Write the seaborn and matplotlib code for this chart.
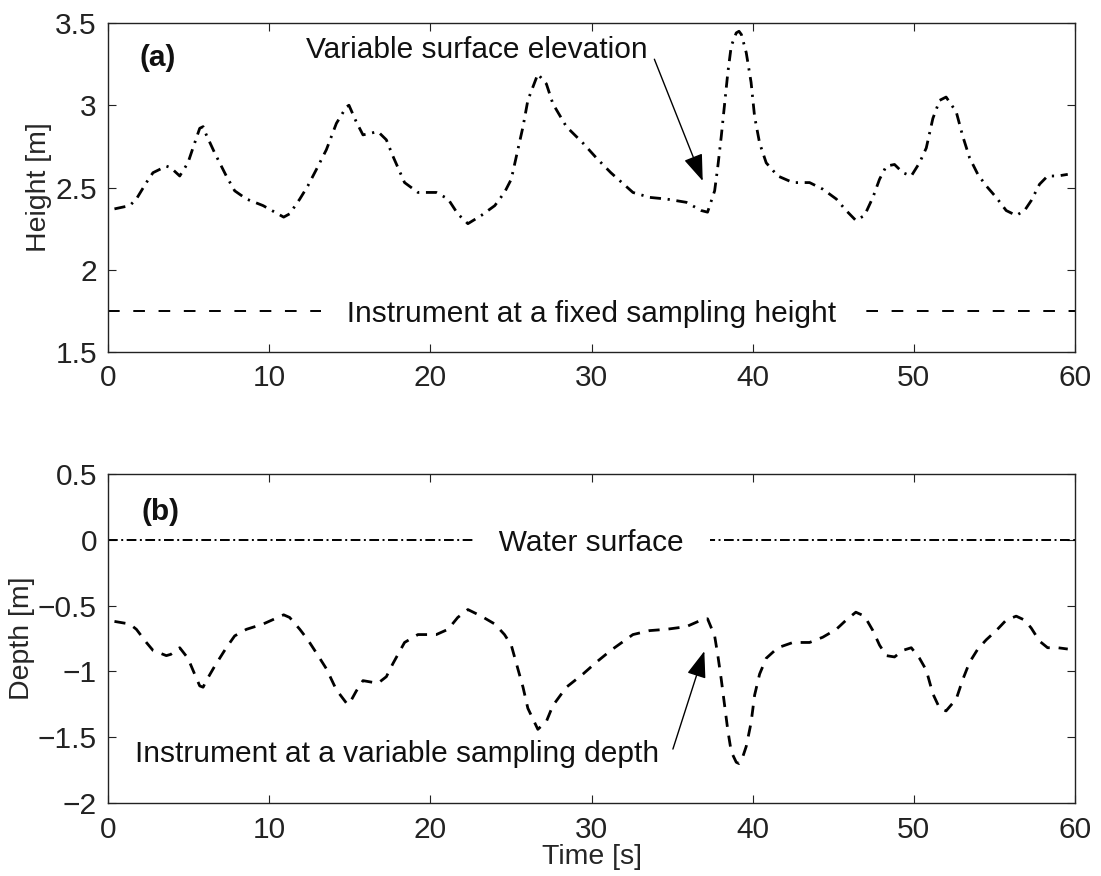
import matplotlib
matplotlib.use("Agg")
import matplotlib.pyplot as plt
import matplotlib.ticker as mticker
import pandas as pd
import seaborn as sns

# ---------------- data ----------------
time_s = [0.4, 1.35, 1.76, 2.38, 2.79, 3.62, 3.9, 4.45, 4.96, 5.27,
          5.69, 5.9, 6.1, 6.62, 7.34, 7.86, 8.59, 9.62, 10.9, 11.27,
          11.9, 12.4, 12.93, 13.55, 14.17, 14.79, 14.95, 15.4, 15.82, 16.75,
          17.27, 17.68, 18.4, 19.23, 20.37, 21.1, 21.7, 22.33, 23.16, 24.0,
          24.6, 25.02, 25.43, 25.75, 26.05, 26.67, 27.2, 27.6, 28.44, 29.47,
          30.3, 31.2, 32.57, 33.6, 34.64, 35.88, 36.81, 37.2, 37.64, 37.84,
          38.05, 38.26, 38.46, 38.67, 38.98, 39.15, 39.3, 39.6, 39.9, 40.12,
          40.43, 40.84, 41.56, 42.5, 43.53, 44.35, 45.19, 45.8, 46.4, 46.94,
          47.46, 47.87, 48.29, 48.8, 49.32, 49.84, 50.35, 50.77, 51.18, 51.6,
          52.0, 52.63, 53.04, 53.46, 53.97, 54.49, 55.11, 55.73, 56.35, 56.87,
          57.28, 57.8, 58.3, 58.93, 59.55]

surface_height = [2.37, 2.39, 2.43, 2.53, 2.59, 2.63, 2.62, 2.57, 2.65, 2.74,
                  2.86, 2.87, 2.82, 2.71, 2.57, 2.48, 2.43, 2.39, 2.32, 2.34,
                  2.43, 2.51, 2.61, 2.73, 2.89, 2.99, 3.00, 2.90, 2.82, 2.84,
                  2.79, 2.69, 2.53, 2.47, 2.47, 2.43, 2.34, 2.28, 2.33, 2.39,
                  2.47, 2.55, 2.73, 2.87, 3.03, 3.19, 3.13, 3.01, 2.87, 2.77,
                  2.68, 2.59, 2.47, 2.44, 2.43, 2.41, 2.36, 2.35, 2.48, 2.63,
                  2.81, 3.01, 3.20, 3.36, 3.44, 3.45, 3.43, 3.32, 3.14, 2.93,
                  2.77, 2.65, 2.57, 2.53, 2.53, 2.49, 2.43, 2.36, 2.30, 2.33,
                  2.44, 2.55, 2.63, 2.64, 2.59, 2.57, 2.65, 2.74, 2.92, 3.03,
                  3.05, 2.96, 2.81, 2.68, 2.58, 2.51, 2.44, 2.36, 2.33, 2.36,
                  2.42, 2.52, 2.57, 2.57, 2.58]

instrument_depth = [-0.62, -0.64, -0.68, -0.78, -0.84, -0.88, -0.87, -0.82, -0.90, -0.99,
                    -1.11, -1.12, -1.07, -0.96, -0.82, -0.73, -0.68, -0.64, -0.57, -0.59,
                    -0.68, -0.76, -0.86, -0.98, -1.14, -1.24, -1.25, -1.15, -1.07, -1.09,
                    -1.04, -0.94, -0.78, -0.72, -0.72, -0.68, -0.59, -0.53, -0.58, -0.64,
                    -0.72, -0.80, -0.98, -1.12, -1.28, -1.44, -1.38, -1.26, -1.12, -1.02,
                    -0.93, -0.84, -0.72, -0.69, -0.68, -0.66, -0.61, -0.60, -0.73, -0.88,
                    -1.06, -1.26, -1.45, -1.61, -1.69, -1.70, -1.68, -1.57, -1.39, -1.18,
                    -1.02, -0.90, -0.82, -0.78, -0.78, -0.74, -0.68, -0.61, -0.55, -0.58,
                    -0.69, -0.80, -0.88, -0.89, -0.84, -0.82, -0.90, -0.99, -1.17, -1.28,
                    -1.30, -1.21, -1.06, -0.93, -0.83, -0.76, -0.69, -0.61, -0.58, -0.61,
                    -0.67, -0.77, -0.82, -0.82, -0.83]

fixed_sampling_height = 1.75
water_surface_level = 0.0

x_ticks = [0, 10, 20, 30, 40, 50, 60]
height_ticks = [1.5, 2, 2.5, 3, 3.5]
depth_ticks = [-2, -1.5, -1, -0.5, 0, 0.5]

# ---------------- style ----------------
sns.set_theme(style="ticks")
plt.rcParams["font.family"] = ["Liberation Sans", "DejaVu Sans"]
plt.rcParams.update({
    "xtick.direction": "in", "ytick.direction": "in",
    "xtick.top": True, "ytick.right": True,
    "xtick.major.size": 6, "ytick.major.size": 6,
    "xtick.major.width": 0.8, "ytick.major.width": 0.8,
    "xtick.major.pad": 9, "ytick.major.pad": 8,
    "xtick.labelsize": 21.5, "ytick.labelsize": 21.5,
    "axes.linewidth": 1.0, "axes.edgecolor": "#222222",
    "xtick.color": "#222222", "ytick.color": "#222222",
    "axes.labelsize": 20.5, "text.color": "#111111",
    "axes.unicode_minus": True,
})

FS = 21.5
fmt = mticker.FuncFormatter(lambda v, p: ("%g" % v).replace("-", "\u2212"))

fig = plt.figure(figsize=(11.01, 8.76), dpi=100)
ax1 = fig.add_axes([0.0981, 0.5982, 0.8783, 0.3755])
ax2 = fig.add_axes([0.0981, 0.0833, 0.8783, 0.3756])

df_top = pd.DataFrame({"Time": time_s, "Height": surface_height})
df_bot = pd.DataFrame({"Time": time_s, "Depth": instrument_depth})

# ---------------- panel (a) ----------------
sns.lineplot(data=df_top, x="Time", y="Height", ax=ax1, color="black",
             lw=2.0, linestyle=(0, (4, 2.4, 0.8, 2.4)), estimator=None, sort=False)
ax1.axhline(fixed_sampling_height, color="black", lw=1.4, ls=(0, (6, 7)), zorder=1.5)
ax1.annotate("   Instrument at a fixed sampling height   ", xy=(30, fixed_sampling_height),
             xytext=(0, -8), textcoords="offset points", ha="center", va="baseline",
             fontsize=FS, zorder=3,
             bbox=dict(boxstyle="square,pad=0.05", fc="white", ec="none"))
ax1.text(33.48, 3.287, "Variable surface elevation", ha="right", va="baseline", fontsize=FS)
ax1.annotate("", xy=(36.9, 2.54), xytext=(33.9, 3.28),
             arrowprops=dict(arrowstyle="-|>,head_length=0.55,head_width=0.2",
                             color="black", lw=1.0, mutation_scale=30,
                             shrinkA=0, shrinkB=0))
ax1.text(0.033, 0.894, "(a)", transform=ax1.transAxes, fontsize=FS,
         fontweight="bold", ha="left", va="center")
ax1.set_xlim(0, 60)
ax1.set_ylim(1.5, 3.5)
ax1.set_xticks(x_ticks)
ax1.set_yticks(height_ticks)
ax1.xaxis.set_major_formatter(fmt)
ax1.yaxis.set_major_formatter(fmt)
ax1.set_xlabel("")
ax1.set_ylabel("Height [m]", labelpad=2)

# ---------------- panel (b) ----------------
sns.lineplot(data=df_bot, x="Time", y="Depth", ax=ax2, color="black",
             lw=2.0, linestyle=(0, (4, 3.2)), estimator=None, sort=False)
ax2.axhline(water_surface_level, color="black", lw=1.4, ls=(0, (5, 1.8, 1, 1.8)), zorder=1.5)
ax2.annotate("   Water surface   ", xy=(30, water_surface_level),
             xytext=(0, -8), textcoords="offset points", ha="center", va="baseline",
             fontsize=FS, zorder=3,
             bbox=dict(boxstyle="square,pad=0.05", fc="white", ec="none"))
ax2.text(1.66, -1.692, "Instrument at a variable sampling depth", ha="left",
         va="baseline", fontsize=FS)
ax2.annotate("", xy=(37.0, -0.846), xytext=(35.05, -1.59),
             arrowprops=dict(arrowstyle="-|>,head_length=0.55,head_width=0.2",
                             color="black", lw=1.0, mutation_scale=30,
                             shrinkA=0, shrinkB=0))
ax2.text(0.035, 0.883, "(b)", transform=ax2.transAxes, fontsize=FS,
         fontweight="bold", ha="left", va="center")
ax2.set_xlim(0, 60)
ax2.set_ylim(-2, 0.5)
ax2.set_xticks(x_ticks)
ax2.set_yticks(depth_ticks)
ax2.xaxis.set_major_formatter(fmt)
ax2.yaxis.set_major_formatter(fmt)
ax2.set_xlabel("Time [s]")
ax2.set_ylabel("Depth [m]", labelpad=2)
ax2.xaxis.set_label_coords(0.5, -0.125)

for ax in (ax1, ax2):
    for s in ax.spines.values():
        s.set_visible(True)

fig.savefig("out.png", dpi=100, facecolor="white")
